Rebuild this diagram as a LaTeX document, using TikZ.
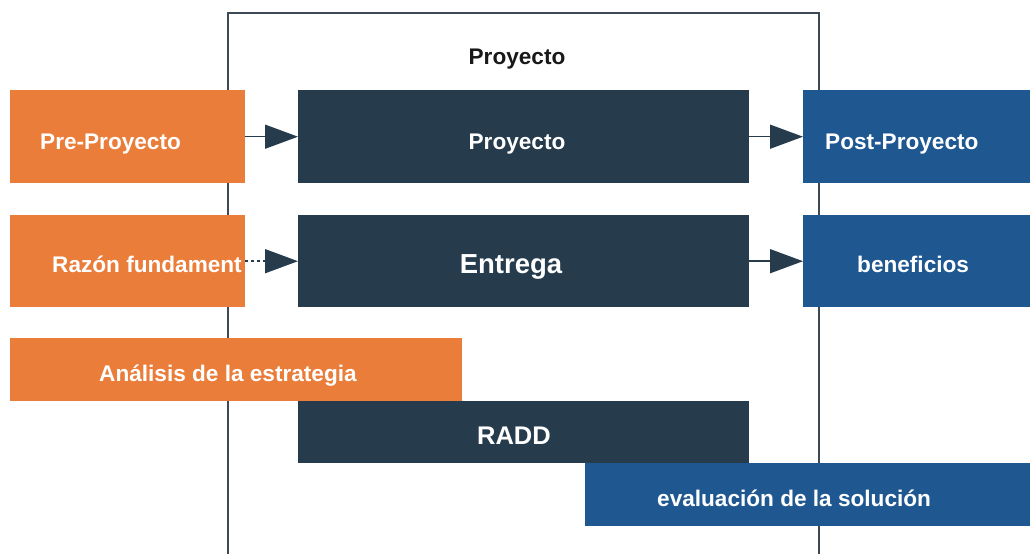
\documentclass[tikz,border=0pt]{standalone}
\usepackage{fontspec}
\setmainfont{Liberation Sans}
\usetikzlibrary{arrows.meta}
\definecolor{naranja}{HTML}{EA7D3A}
\definecolor{pizarra}{HTML}{263C4D}
\definecolor{azul}{HTML}{1F5891}
\definecolor{marco}{HTML}{3B4A56}

\begin{document}
\begin{tikzpicture}[
  x=1pt, y=-1pt,
  font=\fontsize{22.6}{26}\selectfont\bfseries,
  caja/.style={anchor=north west,inner sep=0pt,minimum height=93pt},
  fase1/.style={caja,fill=naranja},
  fase2/.style={caja,fill=pizarra},
  fase3/.style={caja,fill=azul},
  txt/.style={text=white,inner sep=0pt,anchor=base west},
  ar/.style={-{Triangle[length=33pt,width=24pt]},line width=1.5pt,draw=pizarra}
]
\useasboundingbox (0,0) rectangle (1030,554);
% marco del proyecto
\draw[marco,line width=1.5pt] (228,554) -- (228,13) -- (819,13) -- (819,554);
\node[text=black!90,inner sep=0pt,anchor=base] (titulo) at (517,64) {Proyecto};
% fila de fases
\node[fase1,minimum width=235pt] (pre) at (10,90) {};
\node[fase2,minimum width=451pt] (proy) at (298,90) {};
\node[fase3,minimum width=227pt] (post) at (803,90) {};
\node[txt] (preT) at (40,149) {Pre-Proyecto};
\node[txt,anchor=base] (proyT) at (517,149) {Proyecto};
\node[txt] (postT) at (825,149) {Post-Proyecto};
% fila de productos
\node[fase1,minimum width=235pt,minimum height=92pt] (razon) at (10,215) {};
\node[fase2,minimum width=451pt,minimum height=92pt] (entrega) at (298,215) {};
\node[fase3,minimum width=227pt,minimum height=92pt] (benef) at (803,215) {};
\node[txt] (razonT) at (52,272) {Razón fundament};
\node[txt,anchor=base,font=\fontsize{27.5}{30}\selectfont\bfseries] (entregaT) at (511,273) {Entrega};
\node[txt] (benefT) at (857,272) {beneficios};
% actividades escalonadas
\node[fase1,minimum width=452pt,minimum height=63pt] (analisis) at (10,338) {};
\node[fase2,minimum width=451pt,minimum height=62pt] (radd) at (298,401) {};
\node[fase3,minimum width=445pt,minimum height=63pt] (evalua) at (585,463) {};
\node[txt] (analisisT) at (99,381) {Análisis de la estrategia};
\node[txt,anchor=base,font=\fontsize{25.5}{28}\selectfont\bfseries] (raddT) at (514,444) {RADD};
\node[txt] (evaluaT) at (657,506) {evaluación de la solución};
% flechas
\draw[ar] (pre) -- (proy);
\draw[ar] (proy) -- (post);
\draw[ar,dashed] (razon) -- (entrega);
\draw[ar] (entrega) -- (benef);
\end{tikzpicture}
\end{document}
